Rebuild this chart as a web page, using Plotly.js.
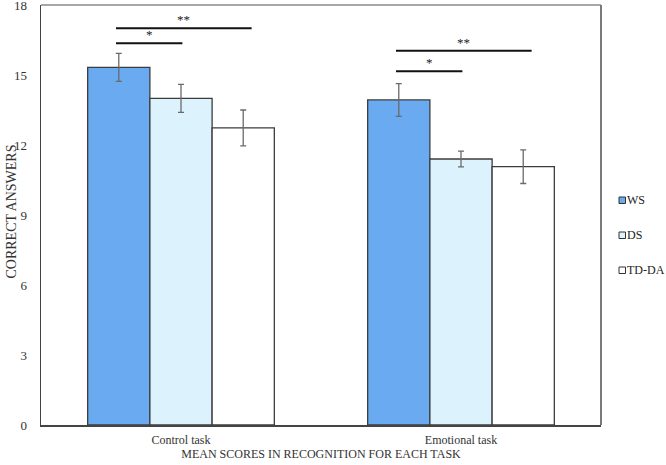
<!DOCTYPE html>
<html>
<head>
<meta charset="utf-8">
<script src="https://cdn.plot.ly/plotly-3.0.1.min.js"></script>
<style>html,body{margin:0;padding:0;background:#fff}#chart{width:666px;height:465px}</style>
</head>
<body>
<div id="chart"></div>
<script>
const categories = ['Control task', 'Emotional task'];
const groups = ['WS', 'DS', 'TD-DA'];
const wsValues = [15.33, 13.93];
const wsErrors = [0.60, 0.70];
const dsValues = [14.0, 11.4];
const dsErrors = [0.60, 0.34];
const tdValues = [12.73, 11.07];
const tdErrors = [0.77, 0.72];
const yTicks = [0, 3, 6, 9, 12, 15, 18];

// significance comparisons
const sigCategory = [0, 0, 1, 1];
const sigFrom = ['WS', 'WS', 'WS', 'WS'];
const sigTo = ['DS', 'TD-DA', 'DS', 'TD-DA'];
const sigLevel = [16.36, 17.0, 15.16, 16.04];
const sigLabel = ['*', '**', '*', '**'];

const SERIF = "'Liberation Serif', 'Times New Roman', 'DejaVu Serif', serif";
const colors = {'WS': '#6aaaf0', 'DS': '#dcf3fe', 'TD-DA': '#ffffff'};
const values = {'WS': wsValues, 'DS': dsValues, 'TD-DA': tdValues};
const errors = {'WS': wsErrors, 'DS': dsErrors, 'TD-DA': tdErrors};

const W = 666, H = 465;
const M = {l: 41, r: 65, t: 5, b: 40};
const PW = W - M.l - M.r, PH = H - M.t - M.b;
const px2x = p => (p - M.l) / PW;
const py2y = p => (H - M.b - p) / PH;

const bargap = 1/3;
const barW = (1 - bargap) / groups.length;
function offsetOf(g) { return (groups.indexOf(g) - (groups.length - 1) / 2) * barW; }

const traces = groups.map((g, i) => ({
  type: 'bar',
  name: g,
  x: categories,
  y: values[g],
  showlegend: false,
  marker: {color: colors[g], line: {color: '#3c3c3c', width: 1.3}},
  error_y: {type: 'data', array: errors[g], visible: true, color: '#6a6a6a', thickness: 1.3, width: 3}
}));

const shapes = [];
const annotations = [];
sigCategory.forEach((c, i) => {
  const x0 = c + offsetOf(sigFrom[i]) - 0.01;
  const x1 = c + offsetOf(sigTo[i]) + (sigTo[i] === 'TD-DA' ? 0.03 : 0.005);
  shapes.push({type: 'line', xref: 'x', yref: 'y', x0: x0, x1: x1, y0: sigLevel[i], y1: sigLevel[i],
    line: {color: '#111', width: 2}});
  annotations.push({xref: 'x', yref: 'y', x: (x0 + x1) / 2, y: sigLevel[i], text: sigLabel[i],
    showarrow: false, yanchor: 'bottom', yshift: -1, font: {family: SERIF, size: 13, color: '#222'}});
});

// frame: lighter top and right edges
shapes.push({type: 'line', xref: 'paper', yref: 'paper', x0: 0, x1: 1, y0: 1, y1: 1, line: {color: '#8a8a8a', width: 1.5}});
shapes.push({type: 'line', xref: 'paper', yref: 'paper', x0: 1, x1: 1, y0: 0, y1: 1, line: {color: '#7a7a7a', width: 2}});

// custom legend (small squares like the reference)
groups.forEach((g, i) => {
  const cy = 200 + i * 35;
  shapes.push({type: 'rect', xref: 'paper', yref: 'paper',
    x0: px2x(619), x1: px2x(625.5), y0: py2y(cy + 3.5), y1: py2y(cy - 3),
    fillcolor: colors[g], line: {color: '#333', width: 1}});
  annotations.push({xref: 'paper', yref: 'paper', x: px2x(624.5), y: py2y(cy), text: g,
    showarrow: false, xanchor: 'left', yanchor: 'middle', font: {family: SERIF, size: 12, color: '#222'}});
});

// y axis title
annotations.push({xref: 'paper', yref: 'paper', x: px2x(10.5), y: py2y(212), text: 'CORRECT ANSWERS',
  textangle: -90, showarrow: false, xanchor: 'center', yanchor: 'middle',
  font: {family: SERIF, size: 14, color: '#333'}});

const layout = {
  width: W, height: H,
  margin: {l: M.l, r: M.r, t: M.t, b: M.b, autoexpand: false},
  paper_bgcolor: '#fff', plot_bgcolor: '#fff',
  font: {family: SERIF, size: 13, color: '#333'},
  barmode: 'group', bargap: bargap, bargroupgap: 0,
  showlegend: false,
  xaxis: {
    type: 'category', range: [-0.5, 1.5],
    showline: true, mirror: false, linecolor: '#444', linewidth: 1.5,
    showgrid: false, ticks: '', ticklabelstandoff: 3, tickfont: {family: SERIF, size: 12},
    title: {text: 'MEAN SCORES IN RECOGNITION FOR EACH TASK', font: {family: SERIF, size: 12}, standoff: 3}
  },
  yaxis: {
    range: [0, 18], tickvals: yTicks, ticktext: yTicks.map(String),
    showline: true, mirror: false, linecolor: '#444', linewidth: 1.5,
    showgrid: false, zeroline: false, ticks: '', ticklabelstandoff: 10, ticklabeloverflow: 'allow',
    ticklabelshift: -1.5,
    tickfont: {family: SERIF, size: 13}
  },
  shapes: shapes,
  annotations: annotations
};

Plotly.newPlot('chart', traces, layout, {displayModeBar: false, staticPlot: true});
</script>
</body>
</html>
